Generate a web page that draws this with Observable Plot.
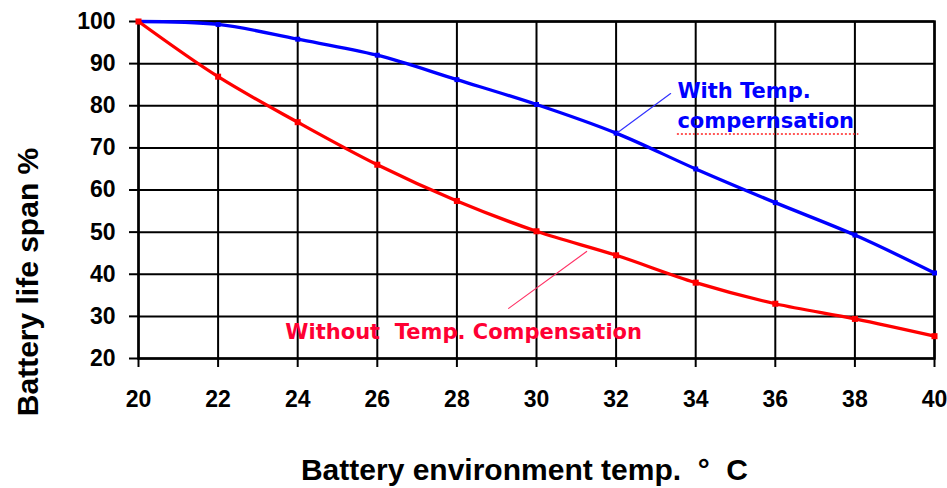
<!DOCTYPE html>
<html><head><meta charset="utf-8">
<script src="https://cdn.jsdelivr.net/npm/d3@7"></script>
<script src="https://cdn.jsdelivr.net/npm/@observablehq/plot@0.6"></script>
<style>
body{margin:0;background:#fff}
#chart svg{display:block}
</style>
</head><body><div id="chart"></div>
<script>
// Data
const temps = [20, 22, 24, 26, 28, 30, 32, 34, 36, 38, 40];
const withComp = [100, 99.3, 95.8, 92, 86.2, 80.3, 73.5, 65, 57, 49.3, 40.3];
const withoutComp = [100, 86.9, 76.1, 66, 57.4, 50.2, 44.5, 38, 33, 29.4, 25.3];
const xTicks = [20, 22, 24, 26, 28, 30, 32, 34, 36, 38, 40];
const yTicks = [20, 30, 40, 50, 60, 70, 80, 90, 100];
const xTitle = "Battery environment temp.  °  C";
const yTitle = "Battery life span %";

// Annotations (text, leader lines and spell-check underline, in data units)
const blueNoteText = ["With Temp.", "compernsation"];
const blueNoteX = [33.54, 33.54];
const blueNoteY = [83.55, 76.43];
const redNoteText = ["Without  Temp. Compensation"];
const redNoteX = [23.69];
const redNoteY = [26.34];
const blueLeaderX = [33.37, 32.04];
const blueLeaderY = [82.9, 73.65];
const redLeaderX = [29.30, 31.26];
const redLeaderY = [31.9, 45.4];
const squiggleX = [33.54, 38.1];
const squiggleY = [73.3];

const withRows = temps.map((t, i) => ({t, v: withComp[i]}));
const withoutRows = temps.map((t, i) => ({t, v: withoutComp[i]}));
const blueNotes = blueNoteText.map((s, i) => ({s, x: blueNoteX[i], y: blueNoteY[i]}));
const redNotes = redNoteText.map((s, i) => ({s, x: redNoteX[i], y: redNoteY[i]}));
const blueLeader = blueLeaderX.map((x, i) => ({x, y: blueLeaderY[i]}));
const redLeader = redLeaderX.map((x, i) => ({x, y: redLeaderY[i]}));

const noteFont = "'DejaVu Sans', Verdana, sans-serif";

const chart = Plot.plot({
  width: 947,
  height: 488,
  marginLeft: 138,
  marginRight: 13,
  marginTop: 21,
  marginBottom: 130,
  style: {fontFamily: "'Liberation Sans', Arial, sans-serif", background: "#fff", color: "#000", overflow: "visible"},
  x: {domain: [20, 40]},
  y: {domain: [20, 100]},
  marks: [
    Plot.gridX(xTicks, {stroke: "#000", strokeOpacity: 1, strokeWidth: 2}),
    Plot.gridY(yTicks, {stroke: "#000", strokeOpacity: 1, strokeWidth: 2}),
    Plot.frame({stroke: "#000", strokeWidth: 2.5}),
    Plot.axisX(xTicks, {tickSize: 9, tickPadding: 23, fontSize: 23, fontWeight: "bold", label: null, strokeWidth: 2, tickFormat: d => String(d)}),
    Plot.axisY(yTicks, {tickSize: 9, tickPadding: 14, fontSize: 23, fontWeight: "bold", label: null, strokeWidth: 2, tickFormat: d => String(d)}),
    Plot.line(withRows, {x: "t", y: "v", curve: "catmull-rom", stroke: "#0000ff", strokeWidth: 3.3}),
    Plot.dot(withRows, {x: "t", y: "v", symbol: "square", r: 2.8, fill: "#0000ff", stroke: null}),
    Plot.line(withoutRows, {x: "t", y: "v", curve: "catmull-rom", stroke: "#ff0000", strokeWidth: 3.3}),
    Plot.dot(withoutRows, {x: "t", y: "v", symbol: "square", r: 3.4, fill: "#ff0000", stroke: null}),
    Plot.line(blueLeader, {x: "x", y: "y", stroke: "#3333ff", strokeWidth: 1.2}),
    Plot.line(redLeader, {x: "x", y: "y", stroke: "#ff3366", strokeWidth: 1.2}),
    Plot.ruleY(squiggleY, {x1: squiggleX[0], x2: squiggleX[1], stroke: "#ff2020", strokeWidth: 1.6, strokeDasharray: "2,2"}),
    Plot.text(blueNotes, {x: "x", y: "y", text: "s", textAnchor: "start", lineAnchor: "middle", fill: "#0000ff", fontSize: 21, fontWeight: "bold", fontFamily: noteFont}),
    Plot.text(redNotes, {x: "x", y: "y", text: "s", textAnchor: "start", lineAnchor: "middle", fill: "#ff0033", fontSize: 21, fontWeight: "bold", fontFamily: noteFont}),
    Plot.text([xTitle], {text: d => d, frameAnchor: "bottom", textAnchor: "middle", lineAnchor: "bottom", dy: 121, dx: -12, fontSize: 30, fontWeight: "bold", fill: "#000"}),
    Plot.text([yTitle], {text: d => d, frameAnchor: "left", textAnchor: "middle", lineAnchor: "bottom", rotate: -90, dx: -101, dy: 92, fontSize: 30, fontWeight: "bold", fill: "#000"})
  ]
});
document.getElementById("chart").appendChild(chart);
</script>
</body></html>
